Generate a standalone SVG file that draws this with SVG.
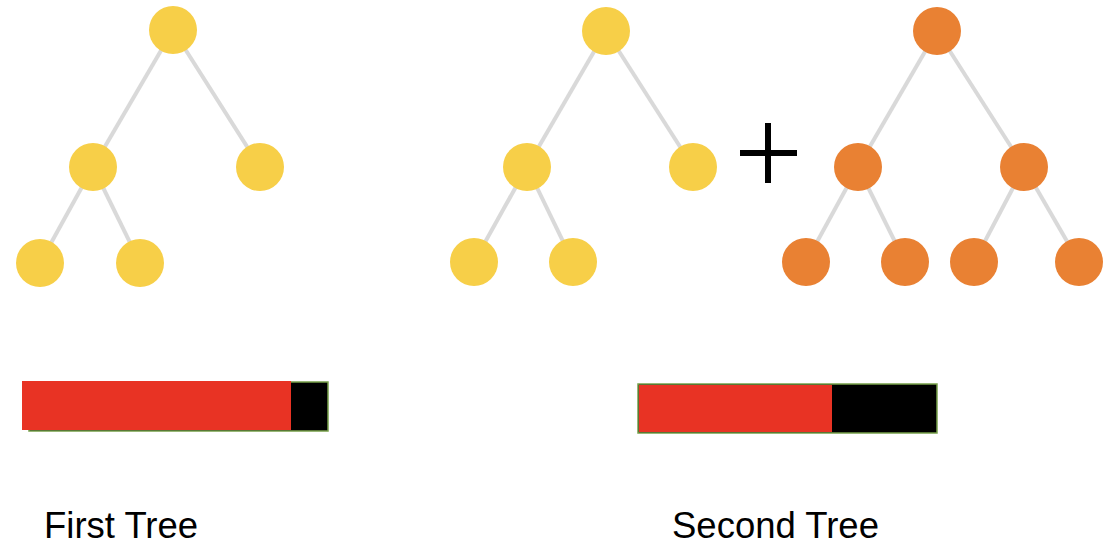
<svg xmlns="http://www.w3.org/2000/svg" width="1119" height="544" viewBox="0 0 1119 544">
<style>
.edge{stroke:#d9d9d9;stroke-width:4;fill:none}
.y{fill:#f7cf48}
.o{fill:#e98133}
.lbl{font-family:"Liberation Sans",Arial,sans-serif;font-size:36.5px;fill:#000}
</style>
<rect width="1119" height="544" fill="#fff"/>
<g id="connectors">
<line class="edge" x1="173" y1="30" x2="93" y2="167"/>
<line class="edge" x1="173" y1="30" x2="260" y2="167"/>
<line class="edge" x1="93" y1="167" x2="40" y2="263"/>
<line class="edge" x1="93" y1="167" x2="140" y2="263"/>
<line class="edge" x1="606" y1="31" x2="527" y2="167"/>
<line class="edge" x1="606" y1="31" x2="693" y2="167"/>
<line class="edge" x1="527" y1="167" x2="474" y2="262"/>
<line class="edge" x1="527" y1="167" x2="573" y2="262"/>
<line class="edge" x1="937" y1="31" x2="858" y2="167"/>
<line class="edge" x1="937" y1="31" x2="1024" y2="167"/>
<line class="edge" x1="858" y1="167" x2="806" y2="262"/>
<line class="edge" x1="858" y1="167" x2="905" y2="262"/>
<line class="edge" x1="1024" y1="167" x2="974" y2="262"/>
<line class="edge" x1="1024" y1="167" x2="1079" y2="262"/>
</g>
<g id="t1-root"><circle class="y" cx="173" cy="30" r="24"/></g>
<g id="t1-l"><circle class="y" cx="93" cy="167" r="24"/></g>
<g id="t1-r"><circle class="y" cx="260" cy="167" r="24"/></g>
<g id="t1-ll"><circle class="y" cx="40" cy="263" r="24"/></g>
<g id="t1-lr"><circle class="y" cx="140" cy="263" r="24"/></g>
<g id="t2-root"><circle class="y" cx="606" cy="31" r="24"/></g>
<g id="t2-l"><circle class="y" cx="527" cy="167" r="24"/></g>
<g id="t2-r"><circle class="y" cx="693" cy="167" r="24"/></g>
<g id="t2-ll"><circle class="y" cx="474" cy="262" r="24"/></g>
<g id="t2-lr"><circle class="y" cx="573" cy="262" r="24"/></g>
<g id="t3-root"><circle class="o" cx="937" cy="31" r="24"/></g>
<g id="t3-l"><circle class="o" cx="858" cy="167" r="24"/></g>
<g id="t3-r"><circle class="o" cx="1024" cy="167" r="24"/></g>
<g id="t3-ll"><circle class="o" cx="806" cy="262" r="24"/></g>
<g id="t3-lr"><circle class="o" cx="905" cy="262" r="24"/></g>
<g id="t3-rl"><circle class="o" cx="974" cy="262" r="24"/></g>
<g id="t3-rr"><circle class="o" cx="1079" cy="262" r="24"/></g>
<g id="plus">
<line x1="768" y1="123" x2="768" y2="183" stroke="#000" stroke-width="6"/>
<line x1="740" y1="153" x2="797" y2="153" stroke="#000" stroke-width="6"/>
</g>
<g id="bar1">
<rect x="29" y="382" width="299" height="49" fill="#000" stroke="#77a04a" stroke-width="1.5"/>
<rect x="22" y="381" width="269" height="49" fill="#e83324"/>
</g>
<g id="bar2">
<rect x="638" y="384" width="299" height="49" fill="#000" stroke="#77a04a" stroke-width="1.5"/>
<rect x="639" y="385" width="193" height="47" fill="#e83324"/>
</g>
<text class="lbl" x="44" y="538">First Tree</text>
<text class="lbl" x="672" y="538">Second Tree</text>
</svg>
